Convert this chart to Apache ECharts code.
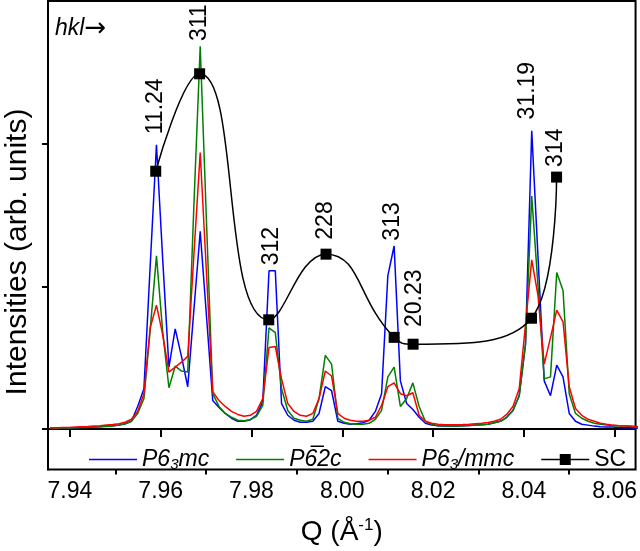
<!DOCTYPE html>
<html><head><meta charset="utf-8">
<script src="https://cdn.jsdelivr.net/npm/echarts@6/dist/echarts.min.js"></script>
<style>html,body{margin:0;padding:0;background:#fff;overflow:hidden}#c{width:640px;height:551px}</style>
</head><body><div id="c"></div>
<script>
// Q grid (Å^-1)
const q = [7.93563,7.93701,7.93839,7.93976,7.94114,7.94252,7.94390,7.94528,7.94665,7.94803,
7.94941,7.95079,7.95217,7.95354,7.95492,7.95630,7.95768,7.95906,7.96043,7.96181,
7.96319,7.96457,7.96595,7.96732,7.96870,7.97008,7.97146,7.97284,7.97421,7.97559,
7.97697,7.97835,7.97973,7.98110,7.98248,7.98386,7.98524,7.98662,7.98799,7.98937,
7.99075,7.99213,7.99351,7.99488,7.99626,7.99764,7.99902,8.00040,8.00177,8.00315,
8.00453,8.00591,8.00729,8.00866,8.01004,8.01142,8.01280,8.01418,8.01555,8.01693,
8.01831,8.01969,8.02107,8.02244,8.02382,8.02520,8.02658,8.02796,8.02933,8.03071,
8.03209,8.03347,8.03485,8.03622,8.03760,8.03898,8.04036,8.04174,8.04311,8.04449,
8.04587,8.04725,8.04863,8.05000,8.05138,8.05276,8.05414,8.05552,8.05689,8.05827,
8.05965,8.06103,8.06241,8.06378,8.06516];
const p63mc = [0.007,0.007,0.007,0.009,0.010,0.012,0.014,0.015,0.017,0.021,
0.024,0.028,0.038,0.055,0.159,0.283,1.145,1.993,1.193,0.434,
0.703,0.510,0.297,0.841,1.386,0.793,0.200,0.152,0.110,0.076,
0.055,0.055,0.066,0.097,0.193,1.110,1.110,0.179,0.097,0.062,
0.048,0.048,0.055,0.110,0.297,0.269,0.055,0.041,0.034,0.038,
0.045,0.062,0.124,0.248,1.076,1.283,0.338,0.179,0.138,0.083,
0.041,0.028,0.024,0.021,0.021,0.021,0.023,0.026,0.028,0.031,
0.034,0.045,0.055,0.083,0.131,0.234,0.593,2.090,1.214,0.338,
0.234,0.448,0.366,0.110,0.055,0.034,0.028,0.021,0.017,0.014,
0.014,0.010,0.010,0.010,0.007];
const p62c = [0.005,0.006,0.007,0.008,0.010,0.011,0.012,0.014,0.016,0.019,
0.022,0.028,0.038,0.055,0.110,0.214,0.697,1.214,0.683,0.290,
0.441,0.407,0.400,1.579,2.683,1.455,0.248,0.159,0.110,0.083,
0.062,0.059,0.066,0.090,0.166,0.710,0.676,0.283,0.131,0.076,
0.062,0.055,0.069,0.214,0.517,0.455,0.076,0.048,0.038,0.034,
0.034,0.041,0.069,0.131,0.366,0.434,0.159,0.214,0.324,0.159,
0.055,0.034,0.024,0.021,0.021,0.021,0.023,0.026,0.028,0.031,
0.034,0.045,0.055,0.083,0.131,0.234,0.593,1.634,1.007,0.352,
0.366,1.097,0.972,0.248,0.110,0.076,0.055,0.041,0.034,0.028,
0.024,0.021,0.021,0.017,0.014];
const p63mmc = [0.008,0.010,0.011,0.012,0.014,0.016,0.018,0.021,0.023,0.028,
0.032,0.038,0.048,0.069,0.124,0.248,0.710,0.869,0.662,0.400,
0.434,0.469,0.510,1.228,1.938,1.090,0.262,0.200,0.159,0.124,
0.103,0.090,0.097,0.124,0.214,0.572,0.579,0.352,0.179,0.124,
0.097,0.090,0.110,0.214,0.407,0.372,0.110,0.076,0.062,0.055,
0.055,0.062,0.083,0.166,0.297,0.324,0.248,0.234,0.255,0.097,
0.055,0.041,0.034,0.031,0.031,0.031,0.032,0.034,0.038,0.041,
0.046,0.055,0.069,0.103,0.159,0.283,0.731,1.186,0.938,0.455,
0.641,0.834,0.752,0.297,0.145,0.097,0.069,0.055,0.041,0.034,
0.028,0.024,0.021,0.021,0.017];
// SC points
const scQ = [7.95890,7.96857,7.98380,7.99642,8.01143,8.01560,8.04169,8.04721];
const scI = [1.807,2.490,0.766,1.226,0.643,0.595,0.777,1.766];
// hkl annotations
const hklText = ['11.24','311','312','228','313','20.23','31.19','314'];
const hklQ = [7.95890,7.96857,7.98440,7.99626,8.01099,8.01604,8.04088,8.04703];
const hklI = [2.262,2.848,1.283,1.462,1.455,0.917,2.372,1.972];
// ticks
const xTicks = [7.94,7.96,7.98,8.00,8.02,8.04,8.06];
const xMinor = [7.95,7.97,7.99,8.01,8.03,8.05];
const yTicks = [0,1,2];

const FONT = 'Liberation Sans, Arial, sans-serif';
const LINE_ICON = 'path://M0,0L48,0ZM0,6.25L48,6.25L48,7.75L0,7.75ZM0,14L48,14Z';
const SC_ICON = 'path://M0,0L48,0ZM0,6.25L18.5,6.25L18.5,1.5L29.5,1.5L29.5,6.25L48,6.25L48,7.75L29.5,7.75L29.5,12.5L18.5,12.5L18.5,7.75L0,7.75ZM0,14L48,14Z';
const chart = echarts.init(document.getElementById('c'), null, {renderer:'canvas', width:640, height:551});
const pair = arr => q.map((x,i)=>[x,arr[i]]);
const option = {
  animation:false,
  backgroundColor:'#fff',
  grid:{left:48, top:1, right:3, bottom:74, show:true, borderColor:'#000', borderWidth:2, backgroundColor:'transparent'},
  xAxis:[{
    type:'value', min:7.935165, max:8.064615,
    axisLine:{lineStyle:{color:'#000', width:2}},
    axisTick:{customValues:xTicks, length:8, lineStyle:{color:'#000', width:2}},
    axisLabel:{customValues:xTicks, formatter:v=>v.toFixed(2), fontSize:23, color:'#000', margin:11, fontFamily:FONT},
    splitLine:{show:false},
    name:'Q (Å{sup|-1})', nameLocation:'middle', nameGap:47,
    nameTextStyle:{fontSize:28, color:'#000', fontFamily:FONT, rich:{sup:{fontSize:17, padding:[0,0,14,0], fontFamily:FONT, color:'#000'}}}
  },{
    type:'value', min:7.935165, max:8.064615, position:'bottom',
    axisLine:{show:false},
    axisTick:{customValues:xMinor, length:5, lineStyle:{color:'#000', width:2}},
    axisLabel:{show:false}, splitLine:{show:false}
  }],
  yAxis:{
    type:'value', min:-0.283, max:3.0,
    axisLine:{show:true, lineStyle:{color:'#000', width:2}},
    axisTick:{customValues:yTicks, length:6, lineStyle:{color:'#000', width:2}},
    axisLabel:{show:false}, splitLine:{show:false}
  },
  legend:{
    data:[{name:'P63mc', icon:LINE_ICON},{name:'P-62c', icon:LINE_ICON},{name:'P63/mmc', icon:LINE_ICON},{name:'SC', icon:SC_ICON}],
    left:84, top:443, itemGap:27, itemWidth:48, itemHeight:14,
    textStyle:{fontSize:23, color:'#000', fontFamily:FONT},
    formatter:function(n){
      if(n==='P63mc') return '{i|P6}{s|3}{i|mc}';
      if(n==='P-62c') return '{i|P6\u03052c}';
      if(n==='P63/mmc') return '{i|P6}{s|3}{i|/mmc}';
      return '{n|SC}';
    }
  },
  graphic:[
    {type:'text', left:55, top:16, style:{text:'{i|hkl}{a|→}', font:'italic 23px '+FONT, fill:'#000',
      rich:{i:{fontSize:23, fontStyle:'italic', fontFamily:FONT, fill:'#000'}, a:{fontSize:26, fontFamily:'DejaVu Sans', fill:'#000'}}}},
    {type:'text', x:18, y:252, rotation:Math.PI/2, style:{text:'Intensities (arb. units)', font:'30px '+FONT, fill:'#000', align:'center', verticalAlign:'middle'}}
  ],
  series:[
    {name:'P63mc', type:'line', data:pair(p63mc), symbol:'none', lineStyle:{color:'#0000FF', width:1.5}, itemStyle:{color:'#0000FF'}},
    {name:'P-62c', type:'line', data:pair(p62c), symbol:'none', lineStyle:{color:'#007F00', width:1.5}, itemStyle:{color:'#007F00'}},
    {name:'P63/mmc', type:'line', data:pair(p63mmc), symbol:'none', lineStyle:{color:'#FF0000', width:1.5}, itemStyle:{color:'#FF0000'}},
    {name:'SC', type:'line', data:scQ.map((x,i)=>[x,scI[i]]), smooth:0.5, symbol:'rect', symbolSize:11, showAllSymbol:true,
      lineStyle:{color:'#000', width:1.5}, itemStyle:{color:'#000'}},
    {name:'hkl', type:'scatter', symbolSize:0, silent:true, itemStyle:{opacity:1, color:'#000'},
      data:hklQ.map((x,i)=>({value:[x,hklI[i]], label:{formatter:hklText[i]}})),
      label:{show:true, position:'inside', rotate:90, fontSize:23, color:'#000', opacity:1, textBorderWidth:0, fontFamily:FONT}}
  ]
};
option.legend.textStyle.rich = {
  i:{fontSize:23, fontStyle:'italic', color:'#000', fontFamily:FONT},
  s:{fontSize:15, fontStyle:'italic', color:'#000', fontFamily:FONT, padding:[10,0,0,0]},
  n:{fontSize:23, color:'#000', fontFamily:FONT}
};
chart.setOption(option);
</script></body></html>
